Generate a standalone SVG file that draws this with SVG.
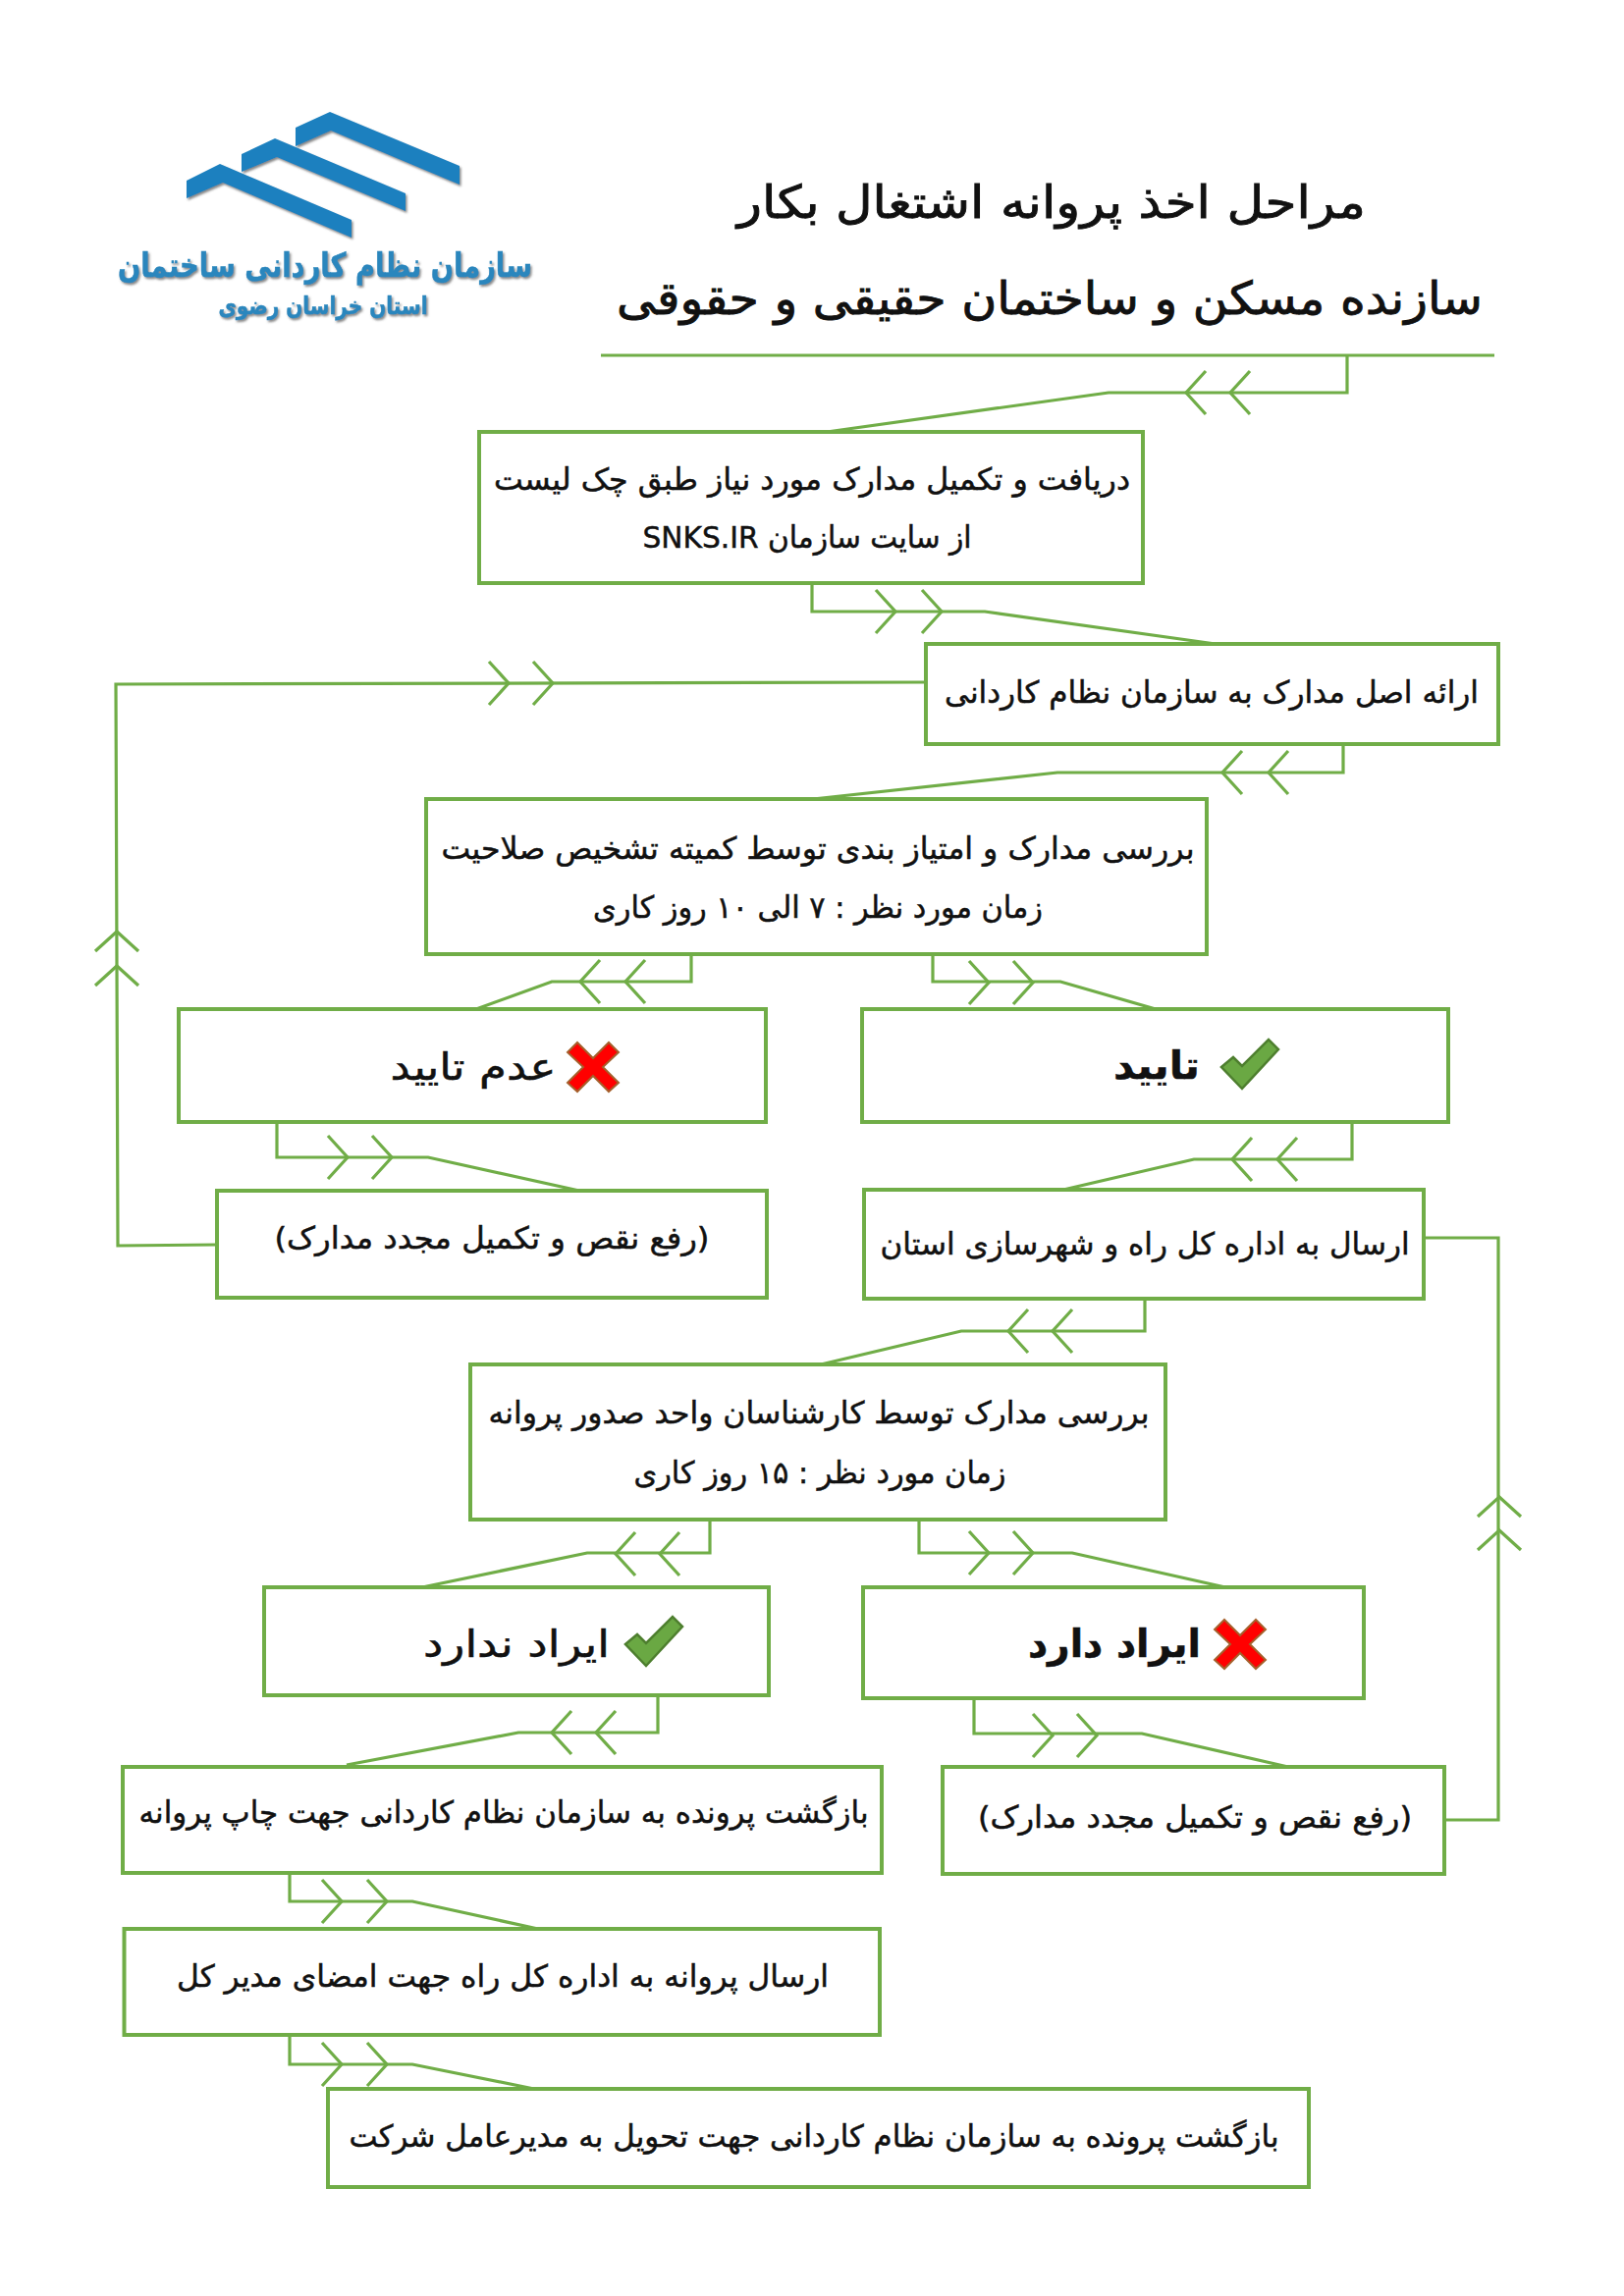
<svg xmlns="http://www.w3.org/2000/svg" xmlns:xlink="http://www.w3.org/1999/xlink" width="1654" height="2339" viewBox="0 0 1654 2339">
<style>
text{font-family:"DejaVu Sans","Noto Sans",sans-serif;fill:#111;stroke:#111;stroke-width:.5;direction:rtl;text-anchor:middle}
.box{fill:#fff;stroke:#70AD47;stroke-width:4}
.c{fill:none;stroke:#70AD47;stroke-width:3.2}
.t{font-size:31px}
.b{font-size:38px}
.bb{font-size:39px;font-weight:bold}
.h{font-size:46px;stroke-width:.9}
.lg{fill:#1B80BF;filter:url(#sh)}
.lt{fill:#2A86BD;stroke:#2A86BD;font-weight:bold;filter:url(#sh)}
.x{fill:#F00;stroke:#A5602C;stroke-width:2}
.v{fill:#6AA843;stroke:#4E7F2F;stroke-width:2.5}
</style>
<defs>
<filter id="sh" x="-5%" y="-10%" width="110%" height="125%"><feDropShadow dx="1.5" dy="2" stdDeviation="1" flood-color="#555" flood-opacity=".7"/></filter>
<path id="a" d="M-20,-22L0,0L-20,22"/>
<polygon id="xm" points="-16,-25 0,-9 16,-25 26,-15 10,0 26,16 16,25 0,9 -16,25 -26,16 -10,0 -26,-15"/>
<polygon id="vm" points="-29,3 -17,-7 -8,2 19,-25 29,-15 -8,25"/>
</defs>
<rect width="1654" height="2339" fill="#fff"/>

<g id="logo">
<polygon class="lg" points="301,130 336,114 468,169 468,188 337,133 301,149"/>
<polygon class="lg" points="246,157 280,141 413,197 413,215 282,160 246,175"/>
<polygon class="lg" points="190,184 224,167 358,224 358,242 227,186 190,202"/>
<text class="lt" x="331" y="282" font-size="34" textLength="422" lengthAdjust="spacingAndGlyphs">سازمان نظام کاردانی ساختمان</text>
<text class="lt" x="329" y="320" font-size="25" textLength="213" lengthAdjust="spacingAndGlyphs">استان خراسان رضوی</text>
</g>

<g id="title">
<text class="h" x="1071" y="222" textLength="640" lengthAdjust="spacingAndGlyphs">مراحل اخذ پروانه اشتغال بکار</text>
<text class="h" x="1069" y="320" textLength="882" lengthAdjust="spacingAndGlyphs">سازنده مسکن و ساختمان حقیقی و حقوقی</text>
</g>

<g id="connectors">
<path class="c" style="stroke-width:3" d="M612,362H1522"/>
<path class="c" d="M1372,362V400H1129L842,440"/>
<use class="c" href="#a" transform="translate(1253,400) rotate(180)"/><use class="c" href="#a" transform="translate(1208,400) rotate(180)"/>
<path class="c" d="M827,594V623H1003L1238,656"/>
<use class="c" href="#a" transform="translate(912,623)"/><use class="c" href="#a" transform="translate(959,623)"/>
<path class="c" d="M943,695L118,697L120,1269L221,1268"/>
<use class="c" href="#a" transform="translate(518,696)"/><use class="c" href="#a" transform="translate(563,696)"/>
<use class="c" href="#a" transform="translate(119,949) rotate(-90)"/><use class="c" href="#a" transform="translate(119,984) rotate(-90)"/>
<path class="c" d="M1368,758V787H1077L828,814"/>
<use class="c" href="#a" transform="translate(1245,787) rotate(180)"/><use class="c" href="#a" transform="translate(1292,787) rotate(180)"/>
<path class="c" d="M704,972V1000H562L485,1028"/>
<use class="c" href="#a" transform="translate(591,1000) rotate(180)"/><use class="c" href="#a" transform="translate(637,1000) rotate(180)"/>
<path class="c" d="M950,972V1000H1080L1177,1028"/>
<use class="c" href="#a" transform="translate(1007,1001)"/><use class="c" href="#a" transform="translate(1052,1001)"/>
<path class="c" d="M282,1143V1179H436L590,1213"/>
<use class="c" href="#a" transform="translate(354,1179)"/><use class="c" href="#a" transform="translate(399,1179)"/>
<path class="c" d="M1377,1143V1181H1216L1083,1212"/>
<use class="c" href="#a" transform="translate(1255,1181) rotate(180)"/><use class="c" href="#a" transform="translate(1301,1181) rotate(180)"/>
<path class="c" d="M1450,1261H1526V1854H1471"/>
<use class="c" href="#a" transform="translate(1527,1525) rotate(-90)"/><use class="c" href="#a" transform="translate(1527,1559) rotate(-90)"/>
<path class="c" d="M1166,1323V1356H979L836,1390"/>
<use class="c" href="#a" transform="translate(1027,1356) rotate(180)"/><use class="c" href="#a" transform="translate(1072,1356) rotate(180)"/>
<path class="c" d="M936,1548V1582H1092L1248,1617"/>
<use class="c" href="#a" transform="translate(1007,1582)"/><use class="c" href="#a" transform="translate(1052,1582)"/>
<path class="c" d="M723,1548V1582H598L430,1617"/>
<use class="c" href="#a" transform="translate(627,1583) rotate(180)"/><use class="c" href="#a" transform="translate(672,1583) rotate(180)"/>
<path class="c" d="M992,1730V1766H1163L1312,1800"/>
<use class="c" href="#a" transform="translate(1072,1768)"/><use class="c" href="#a" transform="translate(1117,1768)"/>
<path class="c" d="M670,1727V1765H528L353,1798"/>
<use class="c" href="#a" transform="translate(562,1765) rotate(180)"/><use class="c" href="#a" transform="translate(607,1765) rotate(180)"/>
<path class="c" d="M295,1908V1937H420L548,1965"/>
<use class="c" href="#a" transform="translate(348,1937)"/><use class="c" href="#a" transform="translate(394,1937)"/>
<path class="c" d="M295,2073V2103H420L544,2128"/>
<use class="c" href="#a" transform="translate(348,2103)"/><use class="c" href="#a" transform="translate(394,2103)"/>
</g>

<g id="n1"><rect class="box" x="488" y="440" width="676" height="154"/>
<text class="t" x="827" y="499" textLength="648" lengthAdjust="spacingAndGlyphs">دریافت و تکمیل مدارک مورد نیاز طبق چک لیست</text>
<text class="t" x="822" y="558" textLength="335" lengthAdjust="spacingAndGlyphs">از سایت سازمان SNKS.IR</text></g>
<g id="n2"><rect class="box" x="943" y="656" width="583" height="102"/>
<text class="t" x="1234" y="716" textLength="544" lengthAdjust="spacingAndGlyphs">ارائه اصل مدارک به سازمان نظام کاردانی</text></g>
<g id="n3"><rect class="box" x="434" y="814" width="795" height="158"/>
<text class="t" x="833" y="875" textLength="767" lengthAdjust="spacingAndGlyphs">بررسی مدارک و امتیاز بندی توسط کمیته تشخیص صلاحیت</text>
<text class="t" x="833" y="935" textLength="458" lengthAdjust="spacingAndGlyphs">زمان مورد نظر : ۷ الی ۱۰ روز کاری</text></g>
<g id="n4"><rect class="box" x="182" y="1028" width="598" height="115"/>
<use class="x" href="#xm" transform="translate(604,1087)"/>
<text class="b" x="482" y="1100" textLength="169" lengthAdjust="spacingAndGlyphs">عدم تایید</text></g>
<g id="n5"><rect class="box" x="878" y="1028" width="597" height="115"/>
<use class="v" href="#vm" transform="translate(1273,1084)"/>
<text class="bb" x="1178" y="1099" textLength="88" lengthAdjust="spacingAndGlyphs">تایید</text></g>
<g id="n6"><rect class="box" x="221" y="1213" width="560" height="109"/>
<text class="t" x="501" y="1272" textLength="443" lengthAdjust="spacingAndGlyphs">(رفع نقص و تکمیل مجدد مدارک)</text></g>
<g id="n7"><rect class="box" x="880" y="1212" width="570" height="111"/>
<text class="t" x="1166" y="1278" textLength="539" lengthAdjust="spacingAndGlyphs">ارسال به اداره کل راه و شهرسازی استان</text></g>
<g id="n8"><rect class="box" x="479" y="1390" width="708" height="158"/>
<text class="t" x="834" y="1450" textLength="673" lengthAdjust="spacingAndGlyphs">بررسی مدارک توسط کارشناسان واحد صدور پروانه</text>
<text class="t" x="835" y="1511" textLength="379" lengthAdjust="spacingAndGlyphs">زمان مورد نظر : ۱۵ روز کاری</text></g>
<g id="n9"><rect class="box" x="269" y="1617" width="514" height="110"/>
<use class="v" href="#vm" transform="translate(666,1672)"/>
<text class="b" x="526" y="1688" textLength="190" lengthAdjust="spacingAndGlyphs">ایراد ندارد</text></g>
<g id="n10"><rect class="box" x="879" y="1617" width="510" height="113"/>
<use class="x" href="#xm" transform="translate(1263,1675)"/>
<text class="bb" x="1135" y="1688" textLength="176" lengthAdjust="spacingAndGlyphs">ایراد دارد</text></g>
<g id="n11"><rect class="box" x="125" y="1800" width="773" height="108"/>
<text class="t" x="513" y="1857" textLength="743" lengthAdjust="spacingAndGlyphs">بازگشت پرونده به سازمان نظام کاردانی جهت چاپ پروانه</text></g>
<g id="n12"><rect class="box" x="960" y="1800" width="511" height="109"/>
<text class="t" x="1217" y="1862" textLength="442" lengthAdjust="spacingAndGlyphs">(رفع نقص و تکمیل مجدد مدارک)</text></g>
<g id="n13"><rect class="box" x="126.500" y="1965" width="769.500" height="108"/>
<text class="t" x="512" y="2024" textLength="664" lengthAdjust="spacingAndGlyphs">ارسال پروانه به اداره کل راه جهت امضای مدیر کل</text></g>
<g id="n14"><rect class="box" x="334" y="2128" width="999" height="100"/>
<text class="t" x="829" y="2187" textLength="947" lengthAdjust="spacingAndGlyphs">بازگشت پرونده به سازمان نظام کاردانی جهت تحویل به مدیرعامل شرکت</text></g>
</svg>
